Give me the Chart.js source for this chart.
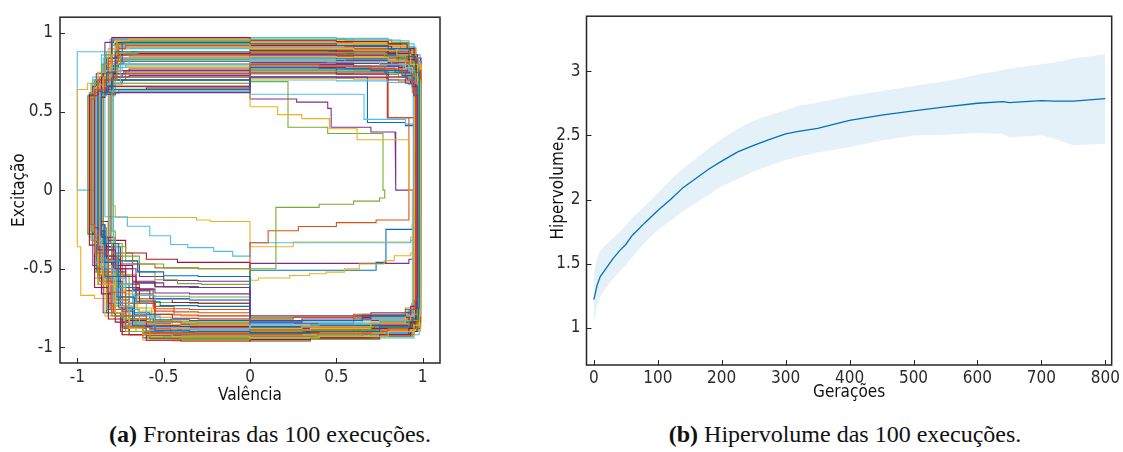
<!DOCTYPE html>
<html>
<head>
<meta charset="utf-8">
<script src="https://cdn.jsdelivr.net/npm/chart.js@4.4.1/dist/chart.umd.min.js"></script>
<style>
body{margin:0;background:#fff;width:1123px;height:452px;position:relative;overflow:hidden}
canvas{position:absolute;top:0}
#fronts{left:0}
#hv{left:540px}
.cap{position:absolute;top:421px;font-family:'Liberation Serif',serif;font-size:24px;color:#111;white-space:nowrap;transform:translateX(-50%)}
</style>
</head>
<body>
<canvas id="fronts" width="470" height="412"></canvas>
<canvas id="hv" width="583" height="412"></canvas>
<div class="cap" style="left:270px"><b>(a)</b> Fronteiras das 100 execuções.</div>
<div class="cap" style="left:845px"><b>(b)</b> Hipervolume das 100 execuções.</div>
<script>
// ---- panel (a): pareto fronts, each as a closed list of step points x,y ----
const frontTicks = [-1, -0.5, 0, 0.5, 1];
const frontTickLabels = ['-1', '-0.5', '0', '0.5', '1'];

const fronts = [
  [0,0.93, 0.5,0.92, 0.8,0.9, 0.92,0.85, 0.96,0.75, 0.98,0, 0.975,-0.75, 0.94,-0.82, 0.75,-0.87, 0.35,-0.9, 0,-0.91, 0,-0.9, -0.35,-0.895, -0.55,-0.86, -0.68,-0.75, -0.76,-0.55, -0.84,-0.3, -0.86,0, -0.83,0.62, -0.78,0.75, -0.74,0.88, 0,0.94],
  [0,0.8, 0.4,0.79, 0.7,0.77, 0.88,0.74, 0.94,0.65, 0.96,0, 0.955,-0.7, 0.9,-0.76, 0.6,-0.79, 0.25,-0.81, 0,-0.82, 0,-0.85, -0.4,-0.84, -0.6,-0.8, -0.72,-0.65, -0.82,-0.4, -0.9,-0.22, -0.92,0, -0.9,0.58, -0.84,0.64, -0.78,0.7, 0,0.72],
  [0,0.9, 0.6,0.89, 0.85,0.86, 0.93,0.8, 0.97,0.7, 0.985,0, 0.98,-0.8, 0.95,-0.86, 0.8,-0.9, 0.4,-0.93, 0,-0.94, 0,-0.93, -0.45,-0.92, -0.62,-0.88, -0.7,-0.78, -0.78,-0.6, -0.85,-0.35, -0.87,0, -0.85,0.6, -0.8,0.72, -0.77,0.86, -0.7,0.95, 0,0.96],
  [0,0.75, 0.5,0.74, 0.8,0.72, 0.91,0.7, 0.95,0.6, 0.97,0, 0.965,-0.68, 0.93,-0.74, 0.7,-0.78, 0.3,-0.8, 0,-0.8, 0,-0.62, -0.3,-0.615, -0.5,-0.59, -0.66,-0.5, -0.78,-0.38, -0.88,-0.24, -0.9,0, -0.88,0.6, -0.82,0.63, -0.7,0.66, 0,0.66],
  [0,0.88, 0.45,0.875, 0.78,0.85, 0.9,0.82, 0.95,0.72, 0.975,0, 0.97,-0.76, 0.92,-0.83, 0.7,-0.87, 0.3,-0.89, 0,-0.9, 0,-0.95, -0.4,-0.94, -0.58,-0.9, -0.66,-0.82, -0.72,-0.62, -0.77,-0.4, -0.8,0, -0.79,0.62, -0.77,0.7, -0.75,0.8, -0.65,0.87, 0,0.88],
  [0,0.83, 0.55,0.82, 0.82,0.8, 0.92,0.76, 0.96,0.68, 0.99,0, 0.985,-0.72, 0.95,-0.79, 0.75,-0.83, 0.4,-0.85, 0,-0.86, 0,-0.88, -0.35,-0.875, -0.56,-0.84, -0.7,-0.72, -0.79,-0.5, -0.86,-0.32, -0.89,0, -0.87,0.6, -0.81,0.67, -0.72,0.78, 0,0.8],
  [0,0.95, 0.5,0.945, 0.8,0.93, 0.91,0.9, 0.95,0.82, 0.96,0, 0.955,-0.82, 0.92,-0.88, 0.75,-0.92, 0.35,-0.94, 0,-0.95, 0,-0.96, -0.4,-0.955, -0.6,-0.92, -0.74,-0.82, -0.82,-0.62, -0.9,-0.35, -0.93,0, -0.9,0.6, -0.86,0.64, -0.8,0.72, -0.79,0.97, 0,0.97],
  [0,0.78, 0.4,0.775, 0.7,0.76, 0.88,0.73, 0.94,0.66, 0.97,0, 0.965,-0.7, 0.9,-0.76, 0.65,-0.8, 0.3,-0.83, 0,-0.84, 0,-0.55, -0.3,-0.545, -0.5,-0.52, -0.65,-0.45, -0.76,-0.34, -0.84,-0.22, -0.86,0, -0.85,0.6, -0.79,0.62, -0.62,0.64, 0,0.64],
  [0,0.91, 0.6,0.9, 0.84,0.88, 0.93,0.84, 0.97,0.76, 0.99,0, 0.985,-0.78, 0.96,-0.84, 0.8,-0.88, 0.4,-0.9, 0,-0.91, 0,-0.92, -0.4,-0.915, -0.6,-0.88, -0.72,-0.78, -0.8,-0.58, -0.87,-0.3, -0.9,0, -0.88,0.62, -0.82,0.7, -0.76,0.82, -0.72,0.9, 0,0.92],
  [0,0.85, 0.5,0.845, 0.8,0.82, 0.9,0.78, 0.94,0.7, 0.955,0, 0.95,-0.74, 0.9,-0.8, 0.7,-0.84, 0.3,-0.87, 0,-0.88, 0,-0.86, -0.4,-0.855, -0.58,-0.82, -0.7,-0.7, -0.8,-0.48, -0.88,-0.26, -0.91,0, -0.89,0.6, -0.83,0.66, -0.76,0.76, 0,0.78],
  [0,0.72, 0.5,0.715, 0.8,0.7, 0.9,0.68, 0.95,0.6, 0.975,0, 0.97,-0.7, 0.93,-0.76, 0.7,-0.8, 0.3,-0.82, 0,-0.83, 0,-0.66, -0.35,-0.655, -0.55,-0.63, -0.68,-0.55, -0.77,-0.42, -0.84,-0.26, -0.86,0, -0.85,0.59, -0.78,0.61, -0.6,0.62, 0,0.62],
  [0,0.96, 0.55,0.955, 0.82,0.94, 0.92,0.9, 0.96,0.8, 0.98,0, 0.975,-0.84, 0.94,-0.89, 0.75,-0.93, 0.35,-0.95, 0,-0.955, 0,-0.94, -0.4,-0.935, -0.6,-0.9, -0.72,-0.8, -0.8,-0.6, -0.88,-0.32, -0.92,0, -0.9,0.62, -0.84,0.7, -0.8,0.86, -0.78,0.95, 0,0.95],
  [0,0.82, 0.45,0.815, 0.75,0.8, 0.89,0.77, 0.93,0.7, 0.945,0, 0.94,-0.73, 0.88,-0.79, 0.65,-0.82, 0.25,-0.84, 0,-0.85, 0,-0.9, -0.35,-0.895, -0.55,-0.86, -0.64,-0.76, -0.72,-0.56, -0.77,-0.34, -0.79,0, -0.78,0.6, -0.75,0.68, -0.7,0.8, 0,0.84],
  [0,0.89, 0.5,0.885, 0.8,0.87, 0.92,0.83, 0.965,0.74, 0.98,0, 0.975,-0.77, 0.93,-0.84, 0.75,-0.88, 0.4,-0.9, 0,-0.905, 0,-0.87, -0.4,-0.865, -0.6,-0.83, -0.72,-0.72, -0.82,-0.5, -0.9,-0.28, -0.93,0, -0.91,0.61, -0.85,0.66, -0.78,0.74, -0.74,0.86, 0,0.87],
  [0,0.77, 0.5,0.765, 0.78,0.75, 0.9,0.72, 0.95,0.64, 0.985,0, 0.98,-0.75, 0.95,-0.8, 0.75,-0.84, 0.35,-0.86, 0,-0.87, 0,-0.74, -0.3,-0.735, -0.52,-0.71, -0.66,-0.62, -0.76,-0.46, -0.85,-0.28, -0.88,0, -0.86,0.6, -0.8,0.64, -0.72,0.7, 0,0.7],
  [0,0.87, 0.55,0.865, 0.8,0.85, 0.91,0.81, 0.955,0.72, 0.965,0, 0.96,-0.8, 0.92,-0.85, 0.7,-0.89, 0.3,-0.91, 0,-0.92, 0,-0.91, -0.45,-0.905, -0.62,-0.87, -0.74,-0.76, -0.82,-0.54, -0.88,-0.3, -0.9,0, -0.88,0.62, -0.82,0.7, -0.75,0.84, 0,0.86],
  [0,0.94, 0.5,0.935, 0.8,0.92, 0.92,0.88, 0.96,0.78, 0.97,0, 0.965,-0.74, 0.93,-0.8, 0.7,-0.85, 0.35,-0.88, 0,-0.89, 0,-0.88, -0.35,-0.875, -0.55,-0.85, -0.68,-0.74, -0.78,-0.54, -0.86,-0.3, -0.89,0, -0.87,0.6, -0.81,0.68, -0.76,0.8, -0.7,0.9, 0,0.91],
  [0,0.81, 0.5,0.805, 0.8,0.79, 0.91,0.75, 0.95,0.67, 0.96,0, 0.955,-0.78, 0.92,-0.83, 0.7,-0.86, 0.3,-0.88, 0,-0.885, 0,-0.93, -0.4,-0.925, -0.6,-0.9, -0.7,-0.8, -0.78,-0.6, -0.85,-0.36, -0.87,0, -0.86,0.6, -0.8,0.66, -0.73,0.74, 0,0.76],
  [0,0.9, 0.5,0.895, 0.8,0.88, 0.92,0.84, 0.97,0.74, 0.99,0, 0.985,-0.82, 0.95,-0.87, 0.8,-0.9, 0.4,-0.92, 0,-0.93, 0,-0.91, -0.4,-0.905, -0.62,-0.87, -0.74,-0.76, -0.83,-0.52, -0.9,-0.28, -0.94,0, -0.92,0.6, -0.86,0.68, -0.8,0.8, -0.76,0.92, 0,0.93],
  [0,0.7, 0.5,0.695, 0.8,0.685, 0.92,0.67, 0.95,0.6, 0.96,0, 0.955,-0.72, 0.9,-0.77, 0.7,-0.81, 0.3,-0.83, 0,-0.84, 0,-0.7, -0.35,-0.695, -0.55,-0.67, -0.68,-0.6, -0.78,-0.45, -0.86,-0.3, -0.88,0, -0.87,0.6, -0.8,0.62, -0.65,0.63, 0,0.63],
  [0,0.92, 0.55,0.915, 0.82,0.9, 0.93,0.86, 0.97,0.77, 0.975,0, 0.97,-0.86, 0.93,-0.9, 0.75,-0.93, 0.35,-0.95, 0,-0.96, 0,-0.95, -0.4,-0.945, -0.58,-0.92, -0.7,-0.84, -0.78,-0.66, -0.86,-0.4, -0.88,0, -0.86,0.61, -0.8,0.7, -0.77,0.84, -0.74,0.94, 0,0.94],
  [0,0.84, 0.5,0.835, 0.8,0.82, 0.9,0.79, 0.95,0.7, 0.975,0, 0.97,-0.7, 0.92,-0.77, 0.7,-0.81, 0.3,-0.83, 0,-0.84, 0,-0.83, -0.35,-0.825, -0.55,-0.79, -0.67,-0.68, -0.77,-0.46, -0.85,-0.26, -0.87,0, -0.85,0.6, -0.79,0.68, -0.73,0.8, 0,0.82],
  [0,0.79, 0.5,0.785, 0.78,0.77, 0.9,0.74, 0.945,0.66, 0.95,0, 0.945,-0.76, 0.9,-0.82, 0.7,-0.85, 0.3,-0.87, 0,-0.88, 0,-0.89, -0.4,-0.885, -0.58,-0.85, -0.7,-0.74, -0.79,-0.52, -0.87,-0.3, -0.89,0, -0.88,0.6, -0.82,0.64, -0.75,0.7, 0,0.74],
  [0,0.93, 0.5,0.925, 0.8,0.91, 0.91,0.87, 0.96,0.79, 0.99,0, 0.985,-0.8, 0.95,-0.86, 0.78,-0.89, 0.38,-0.91, 0,-0.92, 0,-0.94, -0.4,-0.935, -0.6,-0.9, -0.72,-0.8, -0.8,-0.6, -0.88,-0.34, -0.9,0, -0.88,0.62, -0.82,0.72, -0.78,0.86, -0.73,0.92, 0,0.92],
  [0,0.86, 0.5,0.855, 0.8,0.84, 0.92,0.8, 0.965,0.72, 0.97,0, 0.965,-0.74, 0.92,-0.81, 0.7,-0.85, 0.3,-0.87, 0,-0.875, 0,-0.9, -0.35,-0.895, -0.55,-0.87, -0.68,-0.77, -0.74,-0.58, -0.79,-0.34, -0.81,0, -0.8,0.61, -0.77,0.7, -0.74,0.82, 0,0.86],
  [0,0.76, 0.5,0.755, 0.8,0.74, 0.9,0.71, 0.94,0.62, 0.955,0, 0.95,-0.69, 0.9,-0.75, 0.65,-0.79, 0.25,-0.81, 0,-0.82, 0,-0.5, -0.3,-0.495, -0.5,-0.47, -0.64,-0.42, -0.74,-0.34, -0.83,-0.24, -0.85,0, -0.84,0.6, -0.78,0.63, -0.68,0.68, 0,0.68],
  [0,0.97, 0.5,0.965, 0.8,0.95, 0.92,0.91, 0.96,0.84, 0.975,0, 0.97,-0.83, 0.94,-0.88, 0.78,-0.91, 0.38,-0.93, 0,-0.94, 0,-0.92, -0.4,-0.915, -0.6,-0.88, -0.72,-0.78, -0.82,-0.56, -0.9,-0.3, -0.93,0, -0.91,0.6, -0.85,0.7, -0.8,0.84, -0.79,0.96, 0,0.96],
  [0,0.83, 0.5,0.825, 0.8,0.81, 0.91,0.77, 0.955,0.69, 0.965,0, 0.96,-0.76, 0.92,-0.82, 0.72,-0.86, 0.32,-0.88, 0,-0.89, 0,-0.87, -0.4,-0.865, -0.6,-0.82, -0.7,-0.7, -0.8,-0.46, -0.87,-0.26, -0.9,0, -0.88,0.6, -0.82,0.68, -0.77,0.78, 0,0.8],
  [0,0.88, 0.5,0.875, 0.8,0.86, 0.92,0.82, 0.96,0.74, 0.985,0, 0.98,-0.74, 0.95,-0.8, 0.75,-0.84, 0.35,-0.86, 0,-0.87, 0,-0.86, -0.35,-0.855, -0.56,-0.82, -0.7,-0.7, -0.8,-0.5, -0.88,-0.28, -0.91,0, -0.89,0.61, -0.83,0.7, -0.76,0.84, 0,0.88],
  [0,0.74, 0.5,0.735, 0.8,0.72, 0.9,0.7, 0.95,0.62, 0.97,0, 0.965,-0.78, 0.93,-0.83, 0.72,-0.87, 0.32,-0.89, 0,-0.9, 0,-0.92, -0.4,-0.915, -0.6,-0.88, -0.7,-0.78, -0.79,-0.56, -0.86,-0.32, -0.88,0, -0.87,0.6, -0.8,0.63, -0.7,0.66, 0,0.66],
  [0,0.95, 0.6,0.94, 0.88,0.9, 0.95,0.8, 0.99,0, 0.985,-0.85, 0.95,-0.9, 0.7,-0.93, 0,-0.95, 0,-0.96, -0.45,-0.955, -0.62,-0.92, -0.74,-0.8, -0.84,-0.5, -0.9,0, -0.88,0.62, -0.82,0.75, -0.77,0.9, 0,0.95],
  [0,0.8, 0.6,0.79, 0.86,0.76, 0.94,0.68, 0.96,0, 0.955,-0.74, 0.9,-0.8, 0.6,-0.83, 0,-0.85, 0,-0.7, -0.35,-0.69, -0.58,-0.64, -0.72,-0.52, -0.82,-0.3, -0.87,0, -0.86,0.6, -0.8,0.66, -0.7,0.72, 0,0.73],
  [0,0.87, 0.55,0.86, 0.85,0.83, 0.93,0.76, 0.975,0, 0.97,-0.8, 0.93,-0.86, 0.65,-0.9, 0,-0.92, 0,-0.84, -0.4,-0.835, -0.6,-0.8, -0.7,-0.68, -0.78,-0.42, -0.82,0, -0.81,0.61, -0.78,0.7, -0.75,0.8, 0,0.83],
  [0,0.92, 0.6,0.915, 0.86,0.89, 0.94,0.82, 0.985,0, 0.98,-0.76, 0.95,-0.83, 0.7,-0.87, 0,-0.88, 0,-0.9, -0.4,-0.895, -0.62,-0.86, -0.74,-0.74, -0.83,-0.46, -0.9,0, -0.88,0.62, -0.83,0.72, -0.77,0.88, 0,0.9],
  [0,0.78, 0.55,0.775, 0.84,0.75, 0.93,0.68, 0.965,0, 0.96,-0.8, 0.92,-0.85, 0.6,-0.88, 0,-0.9, 0,-0.62, -0.3,-0.615, -0.55,-0.58, -0.68,-0.48, -0.79,-0.3, -0.85,0, -0.84,0.59, -0.76,0.62, -0.6,0.64, 0,0.65],
  [0,0.9, 0.55,0.895, 0.84,0.87, 0.93,0.8, 0.96,0, 0.955,-0.84, 0.92,-0.88, 0.65,-0.91, 0,-0.93, 0,-0.92, -0.45,-0.915, -0.62,-0.88, -0.73,-0.78, -0.83,-0.52, -0.89,0, -0.87,0.62, -0.82,0.72, -0.78,0.84, -0.74,0.93, 0,0.93],
  [0,0.85, 0.6,0.84, 0.86,0.81, 0.94,0.72, 0.98,0, 0.975,-0.72, 0.93,-0.78, 0.65,-0.82, 0,-0.83, 0,-0.76, -0.35,-0.755, -0.56,-0.72, -0.7,-0.6, -0.8,-0.38, -0.86,0, -0.85,0.6, -0.79,0.66, -0.72,0.74, 0,0.76],
  [0,0.71, 0.6,0.705, 0.86,0.69, 0.94,0.62, 0.97,0, 0.965,-0.76, 0.92,-0.82, 0.62,-0.85, 0,-0.86, 0,-0.88, -0.4,-0.875, -0.6,-0.84, -0.72,-0.72, -0.82,-0.44, -0.89,0, -0.88,0.6, -0.82,0.62, -0.66,0.64, 0,0.64],
  [0,0.94, 0.6,0.935, 0.87,0.91, 0.95,0.84, 0.99,0, 0.985,-0.82, 0.95,-0.88, 0.7,-0.92, 0,-0.94, 0,-0.945, -0.45,-0.94, -0.62,-0.9, -0.75,-0.78, -0.85,-0.48, -0.91,0, -0.89,0.6, -0.84,0.74, -0.79,0.94, 0,0.96],
  [0,0.82, 0.6,0.815, 0.86,0.79, 0.94,0.7, 0.97,0, 0.965,-0.78, 0.92,-0.84, 0.62,-0.87, 0,-0.88, 0,-0.68, -0.35,-0.675, -0.56,-0.64, -0.7,-0.54, -0.8,-0.34, -0.86,0, -0.85,0.6, -0.79,0.68, -0.72,0.78, 0,0.79],
  [0,0.91, 0.6,0.905, 0.86,0.88, 0.94,0.8, 0.975,0, 0.97,-0.8, 0.93,-0.85, 0.65,-0.88, 0,-0.9, 0,-0.89, -0.3,-0.885, -0.42,-0.86, -0.52,-0.8, -0.6,-0.72, -0.68,-0.6, -0.76,-0.45, -0.84,-0.3, -0.88,0, -0.86,0.6, -0.8,0.66, -0.74,0.76, -0.68,0.86, 0,0.88],
  [0,0.86, 0.6,0.855, 0.86,0.83, 0.94,0.76, 0.97,0, 0.965,-0.86, 0.93,-0.9, 0.65,-0.92, 0,-0.93, 0,-0.82, -0.3,-0.815, -0.45,-0.79, -0.55,-0.72, -0.64,-0.62, -0.72,-0.5, -0.8,-0.36, -0.87,-0.22, -0.9,0, -0.88,0.6, -0.84,0.64, -0.78,0.7, -0.7,0.76, 0,0.77],
  [0,0.79, 0.6,0.785, 0.86,0.76, 0.94,0.7, 0.96,0, 0.955,-0.82, 0.92,-0.86, 0.62,-0.89, 0,-0.9, 0,-0.94, -0.35,-0.935, -0.5,-0.9, -0.6,-0.84, -0.68,-0.74, -0.75,-0.6, -0.82,-0.42, -0.88,-0.28, -0.91,0, -0.9,0.6, -0.86,0.63, -0.8,0.68, 0,0.7],
  [0,0.93, 0.6,0.925, 0.87,0.9, 0.95,0.82, 0.99,0, 0.985,-0.78, 0.95,-0.84, 0.7,-0.88, 0,-0.89, 0,-0.78, -0.3,-0.775, -0.44,-0.74, -0.56,-0.66, -0.66,-0.54, -0.74,-0.42, -0.82,-0.3, -0.86,0, -0.84,0.62, -0.8,0.72, -0.76,0.84, -0.72,0.93, 0,0.94],
  [0,0.83, 0.6,0.825, 0.86,0.8, 0.94,0.72, 0.975,0, 0.97,-0.74, 0.93,-0.8, 0.65,-0.84, 0,-0.85, 0,-0.86, -0.3,-0.855, -0.45,-0.83, -0.56,-0.77, -0.65,-0.66, -0.73,-0.52, -0.8,-0.38, -0.86,-0.24, -0.89,0, -0.87,0.6, -0.82,0.66, -0.76,0.74, 0,0.78],
  [0,0.89, 0.6,0.885, 0.86,0.86, 0.94,0.78, 0.98,0, 0.975,-0.84, 0.94,-0.88, 0.68,-0.91, 0,-0.92, 0,-0.91, -0.32,-0.905, -0.46,-0.88, -0.58,-0.82, -0.67,-0.72, -0.75,-0.58, -0.83,-0.4, -0.89,-0.26, -0.92,0, -0.9,0.61, -0.85,0.7, -0.8,0.8, -0.77,0.9, 0,0.91],
  [0,0.74, 0.6,0.735, 0.86,0.72, 0.94,0.66, 0.965,0, 0.96,-0.72, 0.92,-0.77, 0.62,-0.8, 0,-0.81, 0,-0.6, -0.28,-0.595, -0.42,-0.57, -0.55,-0.52, -0.65,-0.45, -0.72,-0.36, -0.78,-0.26, -0.8,0, -0.79,0.6, -0.76,0.62, -0.66,0.63, 0,0.63],
  [0,0.96, 0.6,0.955, 0.87,0.93, 0.95,0.86, 0.985,0, 0.98,-0.88, 0.95,-0.92, 0.7,-0.94, 0,-0.95, 0,-0.93, -0.35,-0.925, -0.5,-0.9, -0.6,-0.84, -0.69,-0.74, -0.77,-0.6, -0.84,-0.42, -0.9,-0.28, -0.93,0, -0.91,0.62, -0.86,0.72, -0.81,0.86, -0.79,0.96, 0,0.97],
  [0,0.81, 0.6,0.805, 0.86,0.78, 0.94,0.7, 0.97,0, 0.965,-0.8, 0.93,-0.85, 0.65,-0.88, 0,-0.89, 0,-0.72, -0.3,-0.715, -0.45,-0.69, -0.56,-0.63, -0.66,-0.55, -0.75,-0.44, -0.83,-0.3, -0.87,0, -0.86,0.6, -0.81,0.65, -0.74,0.72, 0,0.74],
  [0,0.87, 0.6,0.865, 0.86,0.84, 0.94,0.76, 0.96,0, 0.955,-0.76, 0.92,-0.82, 0.62,-0.86, 0,-0.87, 0,-0.88, -0.3,-0.875, -0.46,-0.85, -0.58,-0.78, -0.67,-0.68, -0.75,-0.54, -0.83,-0.36, -0.88,-0.24, -0.9,0, -0.88,0.61, -0.83,0.68, -0.77,0.78, -0.72,0.86, 0,0.87],
  [0,0.92, 0.6,0.915, 0.86,0.89, 0.94,0.82, 0.975,0, 0.97,-0.82, 0.94,-0.87, 0.68,-0.9, 0,-0.91, 0,-0.8, -0.3,-0.795, -0.44,-0.77, -0.55,-0.7, -0.64,-0.6, -0.72,-0.48, -0.8,-0.34, -0.86,-0.2, -0.88,0, -0.86,0.62, -0.81,0.72, -0.77,0.86, -0.73,0.92, 0,0.92],
  [0,0.77, 0.6,0.765, 0.86,0.74, 0.94,0.66, 0.985,0, 0.98,-0.78, 0.95,-0.84, 0.68,-0.87, 0,-0.88, 0,-0.84, -0.3,-0.835, -0.46,-0.81, -0.57,-0.75, -0.66,-0.64, -0.74,-0.5, -0.82,-0.34, -0.87,-0.2, -0.89,0, -0.88,0.6, -0.83,0.63, -0.74,0.67, 0,0.68]
];

// runs that stay well inside the ring
const outlierFronts = [
  [0,0.53, 0.16,0.48, 0.3,0.455, 0.46,0.39, 0.62,0.32, 0.92,0, 0.94,0, 0.935,-0.72, 0.9,-0.79, 0.6,-0.82, 0,-0.84, 0,-0.86, -0.4,-0.855, -0.6,-0.82, -0.72,-0.7, -0.8,-0.5, -0.87,-0.3, -0.89,0, -0.87,0.6, -0.82,0.63, -0.7,0.65, 0,0.65],
  [0,0.58, 0.27,0.56, 0.45,0.52, 0.47,0.4, 0.7,0.37, 0.84,0.28, 0.845,0, 0.96,0, 0.955,-0.76, 0.92,-0.82, 0.7,-0.86, 0.3,-0.88, 0,-0.89, 0,-0.9, -0.4,-0.895, -0.6,-0.86, -0.72,-0.76, -0.81,-0.56, -0.88,-0.3, -0.9,0, -0.88,0.6, -0.82,0.68, -0.76,0.78, 0,0.8],
  [0,0.69, 0.22,0.4, 0.45,0.36, 0.77,0, 0.78,0, 0.75,-0.05, 0.6,-0.07, 0.4,-0.09, 0.15,-0.11, 0,-0.5, 0,-0.72, -0.35,-0.715, -0.55,-0.69, -0.68,-0.6, -0.78,-0.44, -0.86,-0.26, -0.88,0, -0.86,0.6, -0.8,0.66, -0.72,0.72, 0,0.75],
  [0,0.76, 0.5,0.75, 0.79,0.7, 0.8,0.46, 0.92,0, 0.73,-0.19, 0.5,-0.207, 0.28,-0.232, 0.105,-0.259, 0,-0.335, 0,-0.5, -0.3,-0.495, -0.55,-0.47, -0.68,-0.4, -0.78,-0.3, -0.86,-0.18, -0.88,0, -0.87,0.6, -0.8,0.64, -0.74,0.7, 0,0.7],
  [0,0.61, 0.66,0.45, 0.9,0.42, 0.95,0, 0.93,-0.32, 0,-0.335, 0,-0.42, -0.1,-0.39, -0.21,-0.366, -0.36,-0.346, -0.46,-0.29, -0.58,-0.23, -0.71,-0.17, -0.84,0, -0.83,0.6, -0.78,0.66, -0.7,0.74, 0,0.76],
  [0,0.84, 0.6,0.83, 0.85,0.8, 0.93,0.7, 0.96,0, 0.93,-0.3, 0.25,-0.33, 0,-0.36, 0,-0.2, -0.23,-0.19, -0.31,-0.174, -0.78,-0.1, -0.8,0, -0.79,0.6, -0.75,0.7, -0.7,0.82, 0,0.85],
  [0,0.8, 0.6,0.79, 0.88,0.76, 0.95,0.66, 0.97,0, 0.93,-0.4, 0.835,-0.418, 0.777,-0.449, 0.633,-0.47, 0.547,-0.501, 0.44,-0.522, 0.345,-0.532, 0.23,-0.543, 0.048,-0.559, 0,-0.574, 0,-0.8, -0.4,-0.79, -0.6,-0.75, -0.75,-0.69, -0.9,-0.67, -0.98,-0.36, -1,0, -0.94,0.64, -0.85,0.68, -0.78,0.8, 0,0.82],
  [0,0.9, 0.55,0.895, 0.82,0.88, 0.93,0.84, 0.97,0.76, 0.98,0, 0.975,-0.77, 0.94,-0.83, 0.75,-0.87, 0.35,-0.89, 0,-0.9, 0,-0.87, -0.4,-0.865, -0.6,-0.84, -0.72,-0.74, -0.82,-0.5, -0.88,-0.26, -0.9,0, -1,0, -0.8,0.88, -0.78,0.93, 0,0.94],
  [0,0.72, 0.68,0.43, 0.9,0.41, 0.95,0, 0.94,-0.22, 0.787,-0.25, 0.73,-0.46, 0,-0.51, 0,-0.62, -0.35,-0.615, -0.55,-0.59, -0.68,-0.5, -0.78,-0.36, -0.86,-0.22, -0.88,0, -0.87,0.6, -0.8,0.64, -0.72,0.7, 0,0.72],
  [0,0.88, 0.6,0.875, 0.86,0.85, 0.94,0.8, 0.97,0, 0.92,-0.44, 0,-0.466, 0,-0.58, -0.3,-0.575, -0.5,-0.55, -0.64,-0.47, -0.75,-0.36, -0.84,-0.22, -0.86,0, -0.85,0.6, -0.79,0.68, -0.74,0.8, 0,0.84],
  [0,0.72, 0.795,0.46, 0.95,0, 0.945,-0.7, 0.9,-0.78, 0.6,-0.81, 0,-0.83, 0,-0.46, -0.42,-0.44, -0.6,-0.4, -0.72,-0.32, -0.82,-0.2, -0.86,0, -0.85,0.6, -0.8,0.64, -0.74,0.68, 0,0.7]
];
const outlierColour = [2, 3, 4, 1, 5, 2, 2, 5, 0, 3, 6];

// ---- panel (b): hypervolume mean and spread per generation ----
const gens    = [0, 5, 10, 20, 30, 40, 50, 60, 80, 100, 120, 140, 160, 180, 200, 225, 250, 275, 300, 320, 350, 400, 450, 500, 550, 600, 640, 650, 700, 720, 750, 800];
const hvMean  = [1.22, 1.33, 1.40, 1.47, 1.54, 1.60, 1.65, 1.72, 1.82, 1.915, 2.0, 2.095, 2.167, 2.238, 2.30, 2.372, 2.423, 2.469, 2.513, 2.531, 2.556, 2.618, 2.659, 2.692, 2.723, 2.751, 2.764, 2.756, 2.772, 2.767, 2.767, 2.787];
const hvUpper = [1.42, 1.55, 1.60, 1.654, 1.70, 1.744, 1.80, 1.859, 1.95, 2.05, 2.154, 2.244, 2.32, 2.40, 2.474, 2.55, 2.615, 2.66, 2.697, 2.731, 2.756, 2.808, 2.846, 2.885, 2.923, 2.974, 3.01, 3.02, 3.056, 3.069, 3.10, 3.133];
const hvLower = [1.04, 1.167, 1.244, 1.32, 1.38, 1.436, 1.49, 1.551, 1.667, 1.762, 1.833, 1.91, 1.974, 2.04, 2.103, 2.16, 2.218, 2.265, 2.308, 2.333, 2.367, 2.41, 2.46, 2.50, 2.505, 2.52, 2.513, 2.487, 2.50, 2.474, 2.423, 2.436];
const genTicks = [0, 100, 200, 300, 400, 500, 600, 700, 800];
const genTickLabels = ['0', '100', '200', '300', '400', '500', '600', '700', '800'];
const hvTicks = [1, 1.5, 2, 2.5, 3];
const hvTickLabels = ['1', '1.5', '2', '2.5', '3'];

const palette = ['#0072BD', '#D95319', '#EDB120', '#7E2F8E', '#77AC30', '#4DBEEE', '#A2142F'];
const axisFont = {family: "'DejaVu Sans Condensed','DejaVu Sans',sans-serif", size: 17};
const tickColor = '#2b2b2b';

// turn step points into the corner polyline of a staircase
function stairs(flat){
    const pts = [];
    for(let i=0;i<flat.length;i+=2) pts.push({x:flat[i], y:flat[i+1]});
    pts.push(pts[0]);
    const out = [pts[0]];
    for(let i=1;i<pts.length;i++){
        const p = pts[i-1], q = pts[i];
        const sx = p.x+q.x, sy = p.y+q.y;
        out.push(sx*sy>0 ? {x:q.x, y:p.y} : {x:p.x, y:q.y});
        out.push(q);
    }
    return out;
}

// frame + inward ticks, like the original figure
const framePlugin = {
    id:'frame',
    afterDraw(chart){
        const {ctx, chartArea:a, scales} = chart;
        ctx.save();
        ctx.strokeStyle = '#262626';
        ctx.lineWidth = 1.5;
        ctx.strokeRect(a.left, a.top, a.right-a.left, a.bottom-a.top);
        ctx.lineWidth = 1;
        scales.x.ticks.forEach(t=>{
            const px = Math.round(scales.x.getPixelForValue(t.value))+0.5;
            ctx.beginPath(); ctx.moveTo(px, a.bottom); ctx.lineTo(px, a.bottom-5); ctx.stroke();
        });
        scales.y.ticks.forEach(t=>{
            const py = Math.round(scales.y.getPixelForValue(t.value))+0.5;
            ctx.beginPath(); ctx.moveTo(a.left, py); ctx.lineTo(a.left+5, py); ctx.stroke();
        });
        ctx.restore();
    }
};

function axis(min, max, ticks, labels, size, pad, title, titlePad){
    return {
        type:'linear', min, max,
        grid:{display:false, drawTicks:false},
        border:{display:false},
        afterBuildTicks: s=>{ s.ticks = ticks.map(v=>({value:v})); },
        afterFit: s=>{ if(s.isHorizontal()) s.height = size; else s.width = size; },
        ticks:{font:axisFont, color:tickColor, padding:pad, autoSkip:false, maxRotation:0, callback:(v,i)=>labels[i]},
        title:{display:true, text:title, font:axisFont, color:'#111', padding:titlePad}
    };
}

const frontSets = fronts.map((f,i)=>({
    data: stairs(f), borderColor: palette[i%7], borderWidth: 1.1,
    showLine: true, pointRadius: 0, tension: 0, fill: false
})).concat(outlierFronts.map((f,i)=>({
    data: stairs(f), borderColor: palette[outlierColour[i]], borderWidth: 1.1,
    showLine: true, pointRadius: 0, tension: 0, fill: false
})));

new Chart(document.getElementById('fronts'), {
    type:'scatter',
    data:{datasets: frontSets},
    options:{
        responsive:false, animation:false, events:[],
        layout:{padding:{top:9, right:30, left:0, bottom:0}},
        plugins:{legend:{display:false}, tooltip:{enabled:false}},
        scales:{
            x: axis(-1.1, 1.1, frontTicks, frontTickLabels, 49, 4, 'Valência', {top:0, bottom:6}),
            y: axis(-1.1, 1.1, frontTicks, frontTickLabels, 60, 7, 'Excitação', {top:9, bottom:0})
        }
    },
    plugins:[framePlugin]
});

const pts = ys => gens.map((g,i)=>({x:g, y:ys[i]}));

new Chart(document.getElementById('hv'), {
    type:'scatter',
    data:{datasets:[
        {data: pts(hvMean), borderColor:'#0072BD', borderWidth:1.3, showLine:true, pointRadius:0, fill:false},
        {data: pts(hvUpper), borderColor:'transparent', borderWidth:0, showLine:true, pointRadius:0, fill:'+1', backgroundColor:'rgba(0,114,189,0.1)'},
        {data: pts(hvLower), borderColor:'transparent', borderWidth:0, showLine:true, pointRadius:0, fill:false}
    ]},
    options:{
        responsive:false, animation:false, events:[],
        layout:{padding:{top:12, right:9, left:0, bottom:0}},
        plugins:{legend:{display:false}, tooltip:{enabled:false}, filler:{drawTime:'beforeDatasetsDraw'}},
        scales:{
            x: axis(-11.5, 810, genTicks, genTickLabels, 47, 3, 'Gerações', {top:0, bottom:9}),
            y: axis(0.71, 3.43, hvTicks, hvTickLabels, 46.5, 6, 'Hipervolume', {top:8, bottom:0})
        }
    },
    plugins:[framePlugin]
});
</script>
</body>
</html>
